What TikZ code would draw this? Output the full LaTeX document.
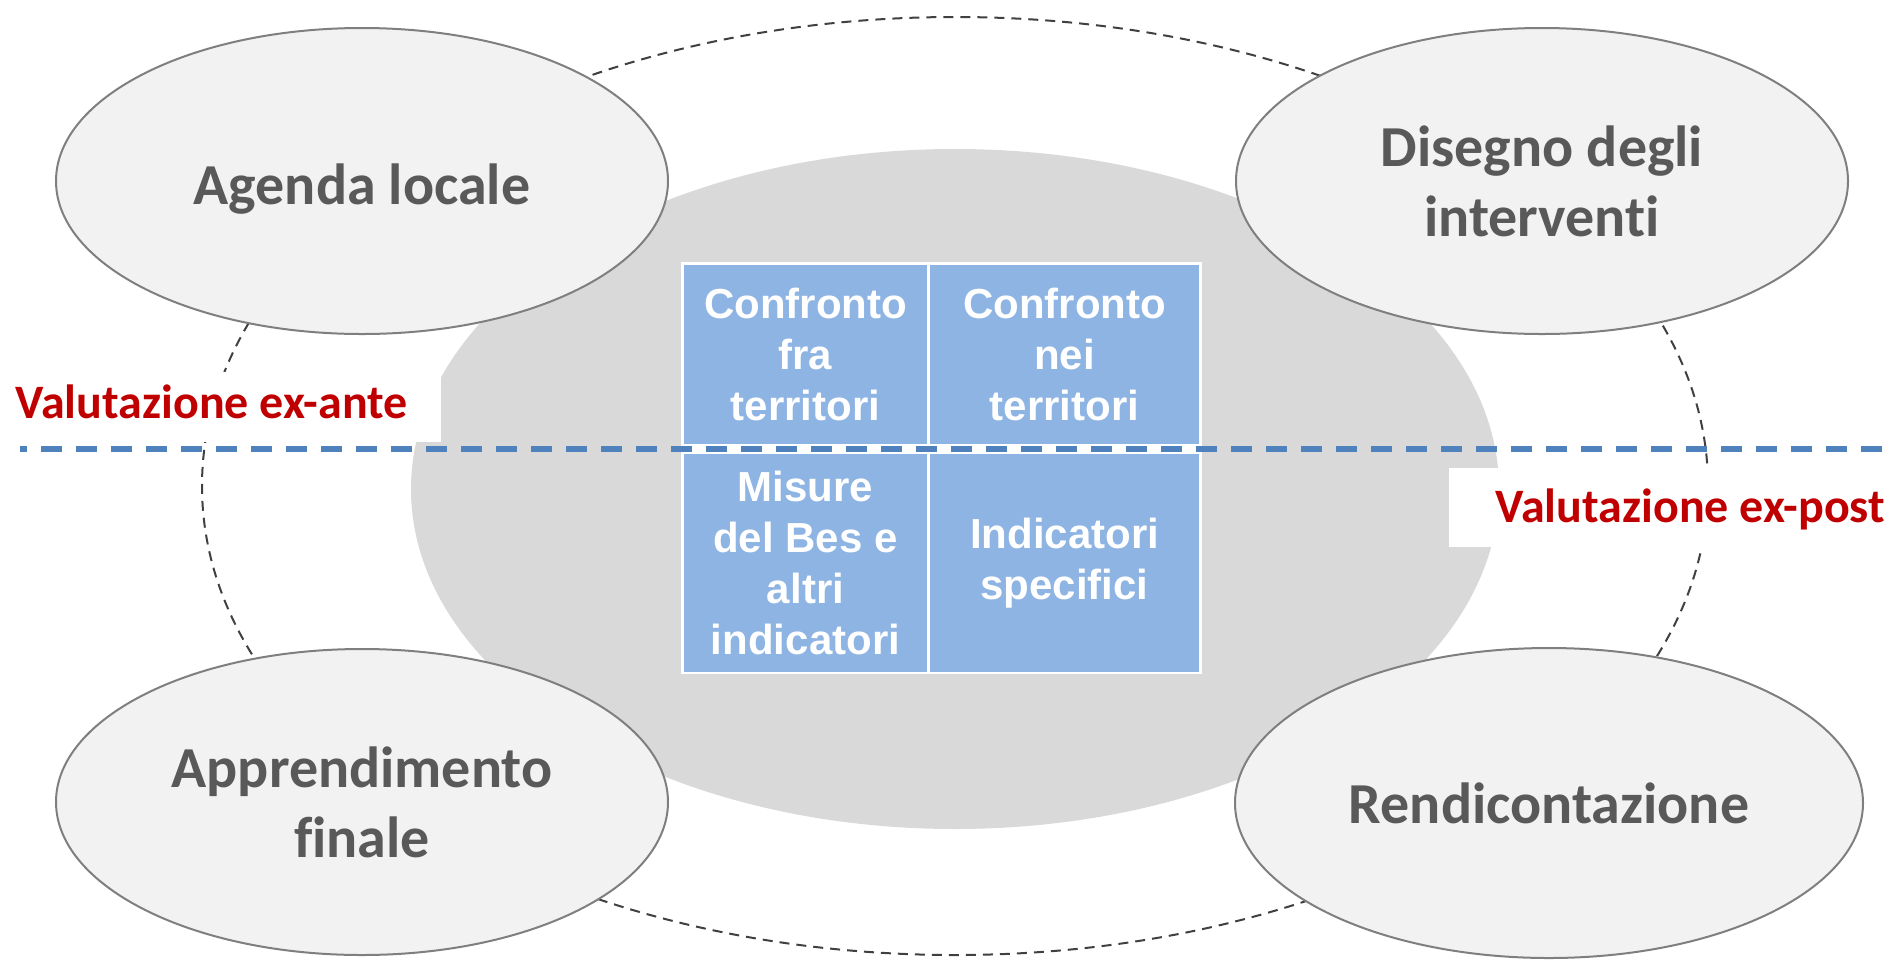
\documentclass[tikz,border=0pt]{standalone}
\usepackage{fontspec}
\setmainfont{Carlito}[Ligatures=CommonOff]
\newfontfamily\cellfont{Liberation Sans}[Ligatures=CommonOff]
\usetikzlibrary{shapes.geometric}
\definecolor{ovalfill}{HTML}{F2F2F2}
\definecolor{ovalline}{HTML}{7F7F7F}
\definecolor{ovaltext}{HTML}{595959}
\definecolor{coregray}{HTML}{D9D9D9}
\definecolor{cellblue}{HTML}{8EB4E3}
\definecolor{splitblue}{HTML}{4F81BD}
\definecolor{evalred}{HTML}{C00000}
\definecolor{ringgray}{HTML}{404040}

\begin{document}
\begin{tikzpicture}[x=0.5pt,y=-0.5pt,
	phase/.style={ellipse, draw=ovalline, line width=1pt, fill=ovalfill,
		text=ovaltext, font=\fontsize{29}{35}\selectfont\bfseries,
		align=center, inner sep=0pt, minimum width=306pt, minimum height=153pt},
	cell/.style={rectangle, fill=cellblue, text=white, inner sep=0pt,
		align=center, font=\cellfont\bfseries\fontsize{21}{25.5}\selectfont},
	evallabel/.style={text=evalred, anchor=base west, inner sep=0pt,
		font=\fontsize{24}{28}\selectfont\bfseries}]
	\useasboundingbox (0,0) rectangle (1885,960);
	
	\draw[ringgray, line width=1pt, dash pattern=on 5pt off 3.5pt]
	(955,486) ellipse [x radius=753, y radius=469];
	\fill[coregray] (955,489) ellipse [x radius=544, y radius=340];
	
	\node[phase, text depth=0pt] (agenda) at (362,181) {\raisebox{-3.5pt}{Agenda locale}};
	\node[phase] (disegno) at (1542,181) {Disegno degli\\interventi};
	\node[phase] (apprend) at (362,802) {Apprendimento\\finale};
	\node[phase, minimum width=314pt, minimum height=155pt] (rendic) at (1549,803) {Rendicontazione};
	
	\fill[white] (681,262) rectangle (1202,674);
	\node[cell, minimum width=121.5pt, minimum height=89.5pt] (fra) at (805.5,354.5) {Confronto\\fra\\territori};
	\node[cell, minimum width=134.5pt, minimum height=89.5pt] (nei) at (1064.5,354.5) {Confronto\\nei\\territori};
	\node[cell, minimum width=121.5pt, minimum height=109pt] (bes) at (805.5,563) {Misure\\del Bes e\\altri\\indicatori};
	\node[cell, minimum width=134.5pt, minimum height=109pt] (spec) at (1064.5,563) {Indicatori\\specifici};
	
	\fill[white] (0,372) rectangle (441,442);
	\fill[white] (1449,468) rectangle (1885,547);
	
	\coordinate (splitw) at (20,449);
	\coordinate (splite) at (1885,449);
	\draw[splitblue, line width=3pt, dash pattern=on 10.5pt off 7pt, dash phase=7pt] (splitw) -- (splite);
	
	\node[evallabel] (exante) at (15,418) {Valutazione ex-ante};
	\node[evallabel] (expost) at (1495,522) {Valutazione ex-post};
\end{tikzpicture}
\end{document}
